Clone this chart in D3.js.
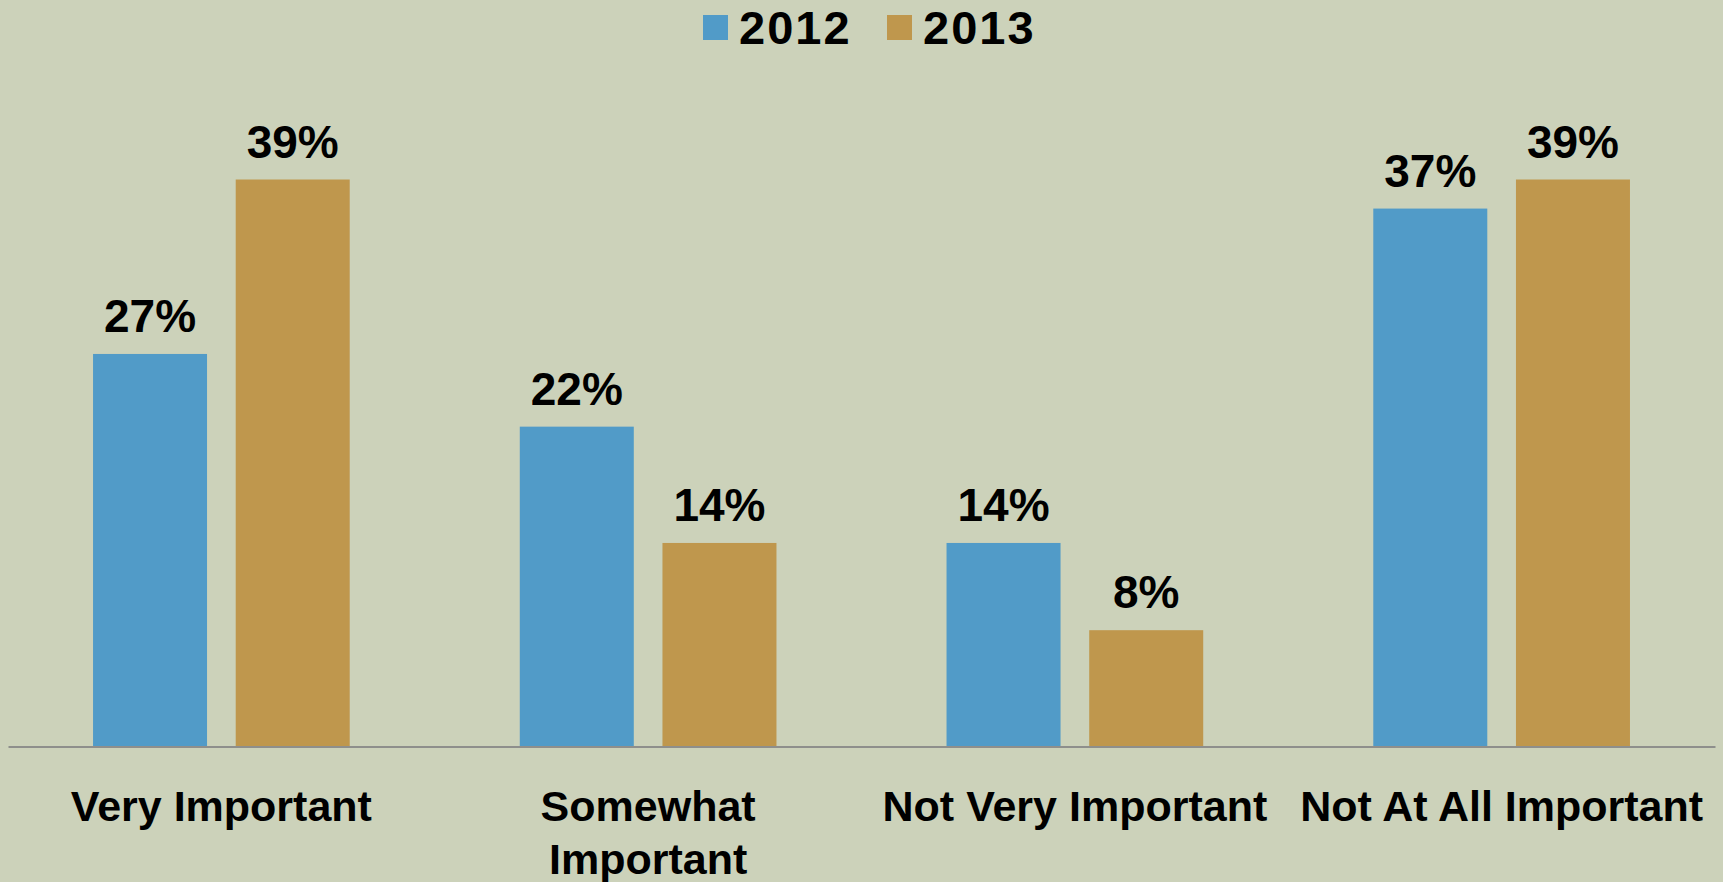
<!DOCTYPE html>
<html>
<head>
<meta charset="utf-8">
<script src="https://cdn.jsdelivr.net/npm/d3@7"></script>
<style>
  body { margin: 0; background: #ccd2ba; }
  svg { display: block; font-family: "Liberation Sans", Arial, sans-serif; }
</style>
</head>
<body>
<svg width="1723" height="882"></svg>
<script>
// data
var categories = ["Very Important", "Somewhat Important", "Not Very Important", "Not At All Important"];
var seriesNames = ["2012", "2013"];
var values2012 = [27, 22, 14, 37];
var values2013 = [39, 14, 8, 39];
var colors = ["#519bc8", "#bf974d"];

var svg = d3.select("svg"),
    width = +svg.attr("width"),
    height = +svg.attr("height");

var baseY = 746.5;

var x0 = d3.scaleBand()
    .domain(categories)
    .range([8, 1715])
    .padding(0);

var x1 = d3.scaleBand()
    .domain(seriesNames)
    .range([0, x0.bandwidth()])
    .paddingInner(0.201)
    .paddingOuter(0.596);

var y = d3.scaleLinear()
    .domain([0, 39])
    .range([baseY, 179.5]);

var color = d3.scaleOrdinal().domain(seriesNames).range(colors);

var rows = categories.map(function(c, i) {
  return { cat: c, vals: [
    { key: "2012", value: values2012[i] },
    { key: "2013", value: values2013[i] }
  ]};
});

var groups = svg.append("g").selectAll("g")
    .data(rows)
    .enter()
    .append("g")
      .attr("transform", function(d) { return "translate(" + x0(d.cat) + ",0)"; });

groups.selectAll("rect")
    .data(function(d) { return d.vals; })
    .enter()
    .append("rect")
      .attr("x", function(d) { return x1(d.key); })
      .attr("y", function(d) { return y(d.value); })
      .attr("width", x1.bandwidth())
      .attr("height", function(d) { return baseY - y(d.value); })
      .style("fill", function(d) { return color(d.key); });

// value labels
groups.selectAll("text")
    .data(function(d) { return d.vals; })
    .enter()
    .append("text")
      .attr("x", function(d) { return x1(d.key) + x1.bandwidth() / 2; })
      .attr("y", function(d) { return y(d.value) - 22; })
      .attr("text-anchor", "middle")
      .style("font-size", "46px")
      .style("font-weight", "bold")
      .style("fill", "#000")
      .text(function(d) { return d.value + "%"; });

// baseline axis
var xAxis = d3.axisBottom(x0).tickSize(0).tickPadding(0);
var axisG = svg.append("g")
    .attr("transform", "translate(0," + baseY + ")")
    .call(xAxis);
axisG.select(".domain")
    .attr("stroke", "#8e8f8c")
    .attr("stroke-width", 2);
axisG.selectAll(".tick text")
    .attr("y", 74)
    .attr("dy", 0)
    .style("font-size", "43px")
    .style("font-weight", "bold")
    .style("fill", "#000")
    .call(wrap, x0.bandwidth() - 10);

function wrap(texts, w) {
  texts.each(function() {
    var text = d3.select(this),
        words = text.text().split(/\s+/),
        line = [],
        lineNo = 0,
        yy = text.attr("y"),
        tspan = text.text(null).append("tspan").attr("x", 0).attr("y", yy);
    words.forEach(function(word) {
      line.push(word);
      tspan.text(line.join(" "));
      if (tspan.node().getComputedTextLength() > w && line.length > 1) {
        line.pop();
        tspan.text(line.join(" "));
        line = [word];
        lineNo++;
        tspan = text.append("tspan").attr("x", 0).attr("y", +yy + lineNo * 53).text(word);
      }
    });
  });
}

// legend
var legend = svg.append("g").selectAll("g")
    .data(seriesNames)
    .enter()
    .append("g")
      .attr("transform", function(d, i) { return "translate(" + (703 + i * 184) + ",15)"; });

legend.append("rect")
    .attr("width", 25)
    .attr("height", 25)
    .style("fill", function(d) { return color(d); });

legend.append("text")
    .attr("x", 36)
    .attr("y", 28.5)
    .style("font-size", "47px")
    .style("font-weight", "bold")
    .style("letter-spacing", "2px")
    .style("fill", "#000")
    .text(function(d) { return d; });
</script>
</body>
</html>
